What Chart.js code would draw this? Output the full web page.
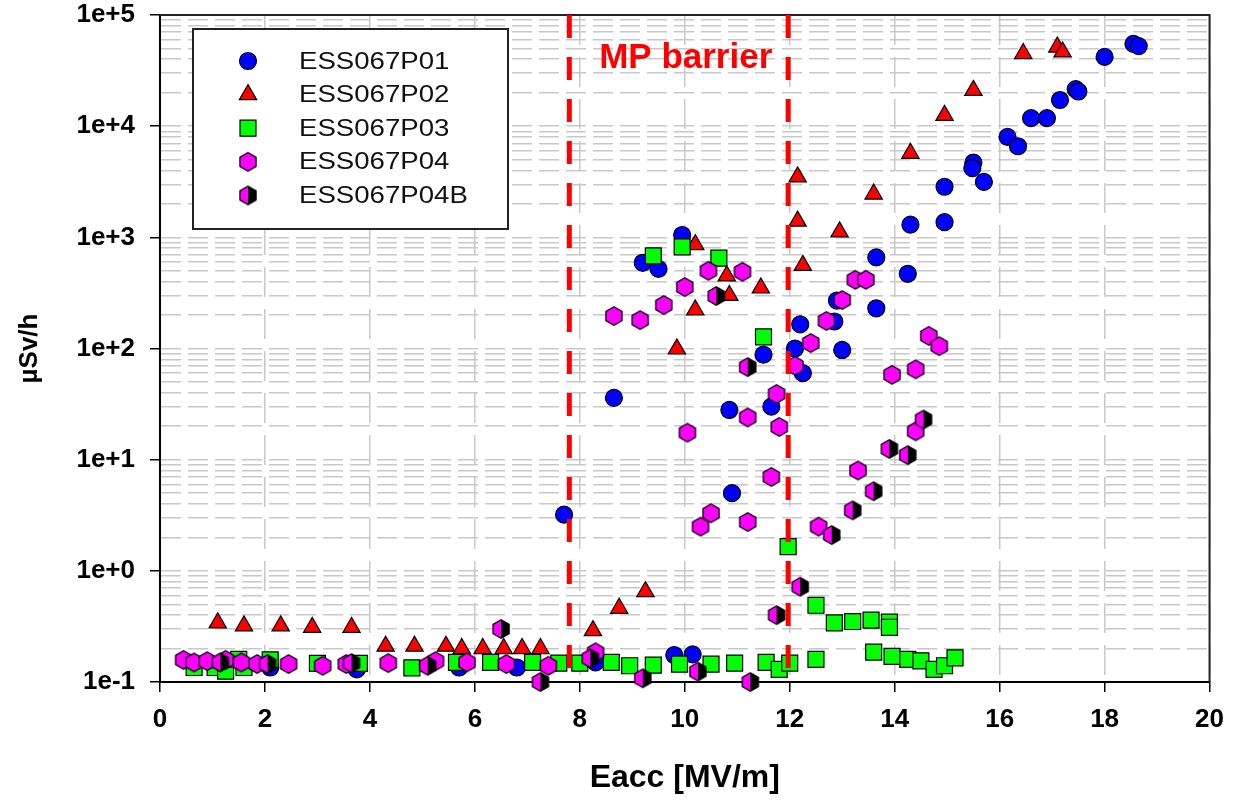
<html>
<head>
<title>Radiation vs Eacc</title>
<style>
  html, body { margin: 0; padding: 0; background: #fff; }
  #wrap { width: 1236px; height: 802px; }
</style>
</head>
<body>
<div id="wrap"><canvas id="radChart" width="1236" height="802"></canvas></div>
<script src="https://cdn.jsdelivr.net/npm/chart.js@4.4.0/dist/chart.umd.min.js"></script>
<script>
// series, [Eacc MV/m, uSv/h]
const p01 = [[2.1,0.135],[3.75,0.13],[5.7,0.135],[6.8,0.135],[7.7,3.2],[8.3,0.15],[8.65,36],[9.2,590],[9.5,520],
  [9.95,1050],[9.8,0.175],[10.15,0.177],[10.85,28],[10.9,5],[11.5,88],[11.65,30],[12.1,100],[12.2,165],[12.25,60],
  [12.85,175],[12.9,270],[13.0,97],[13.65,230],[13.65,660],[14.25,470],[14.3,1300],[14.95,1370],[14.95,2850],
  [15.5,4700],[15.48,4200],[15.7,3150],[16.15,8000],[16.35,6600],[16.6,11800],[16.9,11800],[17.15,17200],
  [17.45,21500],[17.5,20500],[18.0,42000],[18.55,55000],[18.65,52500]];
const p02 = [[1.1,0.34],[1.6,0.32],[2.3,0.32],[2.9,0.31],[3.65,0.31],[4.3,0.21],[4.85,0.21],[5.45,0.21],[5.75,0.2],
  [6.15,0.2],[6.55,0.2],[6.9,0.2],[7.25,0.2],[8.25,0.29],[8.75,0.46],[9.25,0.65],[9.85,99],[10.2,860],[10.2,222],
  [10.8,450],[10.85,300],[11.45,350],[12.15,1400],[12.15,3500],[12.25,560],[12.95,1120],[13.6,2450],[14.3,5700],
  [14.95,12500],[15.5,21000],[16.45,45000],[17.1,51500],[17.2,46500]];
const p03 = [[0.65,0.135],[1.05,0.135],[1.25,0.125],[1.5,0.16],[1.6,0.135],[2.1,0.158],[3.0,0.147],[3.8,0.147],
  [4.8,0.134],[5.65,0.15],[6.3,0.15],[7.1,0.15],[7.6,0.148],[8.0,0.148],[8.6,0.15],[8.95,0.14],[9.4,0.142],[9.4,680],
  [9.95,820],[9.9,0.145],[10.5,0.145],[10.65,650],[10.95,0.148],[11.5,127],[11.55,0.15],[11.8,0.13],[12.0,0.148],
  [11.97,1.65],[12.5,0.49],[12.5,0.16],[12.85,0.34],[13.2,0.35],[13.55,0.36],[13.6,0.186],[13.9,0.345],[13.9,0.31],
  [13.95,0.17],[14.25,0.16],[14.5,0.155],[14.75,0.13],[14.95,0.14],[15.15,0.165]];
const p04 = [[0.45,0.158],[0.65,0.15],[0.9,0.154],[1.25,0.158],[1.55,0.15],[1.85,0.145],[2.45,0.145],[3.1,0.14],
  [3.55,0.145],[4.35,0.148],[5.25,0.154],[5.85,0.15],[6.6,0.145],[7.4,0.14],[8.3,0.185],[8.65,196],[9.15,180],
  [9.6,246],[10.0,357],[10.05,17.5],[10.3,2.5],[10.5,3.3],[10.45,500],[11.1,490],[11.2,2.75],[11.2,24],[11.65,7],
  [11.75,39],[11.8,19.7],[12.1,70],[12.4,112],[12.55,2.5],[12.7,177],[13.0,273],[13.3,8],[13.25,415],[13.45,415],
  [13.95,58],[14.4,65],[14.4,18],[14.65,130],[14.85,105]];
const p04b = [[1.15,0.15],[2.05,0.145],[3.65,0.148],[5.1,0.14],[6.5,0.3],[7.25,0.1],[8.2,0.163],[9.2,0.108],
  [10.25,0.124],[10.6,297],[11.2,68],[11.25,0.1],[11.75,0.4],[12.2,0.72],[12.8,2.1],[13.2,3.5],[13.6,5.2],
  [13.9,12.5],[14.25,11],[14.55,23]];

const seriesNames = ['ESS067P01','ESS067P02','ESS067P03','ESS067P04','ESS067P04B'];
const barrierLo = 7.8, barrierHi = 11.97;
const decadeLabels = ['1e-1','1e+0','1e+1','1e+2','1e+3','1e+4','1e+5'];

const toXY = arr => arr.map(p => ({x: p[0], y: p[1]}));

function hexCanvas(fillL, fillR) {
  const c = document.createElement('canvas');
  c.width = 20; c.height = 22;
  const g = c.getContext('2d');
  const cx = 10, cy = 11, r = 9.3;
  const path = new Path2D();
  for (let i = 0; i < 6; i++) {
    const a = Math.PI / 3 * i - Math.PI / 2;
    const px = cx + r * Math.cos(a), py = cy + r * Math.sin(a);
    if (i === 0) path.moveTo(px, py); else path.lineTo(px, py);
  }
  path.closePath();
  g.fillStyle = fillL;
  g.fill(path);
  if (fillR) {
    g.save();
    g.beginPath(); g.rect(cx, 0, 20, 22); g.clip();
    g.fillStyle = fillR; g.fill(path);
    g.restore();
  }
  g.lineWidth = 1.3; g.strokeStyle = '#000';
  g.stroke(path);
  return c;
}
const hexMagenta = hexCanvas('#ff00ff');
const hexHalf = hexCanvas('#ff00ff', '#000000');

function isDecade(v) {
  const l = Math.log10(v);
  return Math.abs(l - Math.round(l)) < 1e-6;
}

function scatterSet(label, data, color, style, radius, order) {
  return {
    type: 'scatter', label: label, data: toXY(data), order: order, clip: false,
    pointStyle: style, pointRadius: radius, backgroundColor: color,
    borderColor: '#000', borderWidth: 1.2
  };
}
function barrierSet(x) {
  return {
    type: 'line', label: '', data: [{x: x, y: 1e5}, {x: x, y: 0.1}], order: 0,
    borderColor: '#ff0000', borderWidth: 5, borderDash: [23, 19], pointRadius: 0, fill: false
  };
}

const extras = {
  id: 'extras',
  beforeDatasetsDraw(chart) {
    const {ctx, chartArea: a} = chart;
    ctx.save();
    ctx.strokeStyle = '#222'; ctx.lineWidth = 2;
    ctx.beginPath();
    ctx.moveTo(a.left, a.top); ctx.lineTo(a.right, a.top); ctx.lineTo(a.right, a.bottom);
    ctx.stroke();
    ctx.restore();
  },
  afterDraw(chart) {
    const {ctx, chartArea: a, scales} = chart;
    ctx.save();
    // MP barrier label
    const mid = (scales.x.getPixelForValue(barrierLo) + scales.x.getPixelForValue(barrierHi)) / 2;
    ctx.fillStyle = '#ff0000';
    ctx.font = 'bold 35px "Liberation Sans", Arial, sans-serif';
    ctx.textAlign = 'center'; ctx.textBaseline = 'alphabetic';
    ctx.fillText('MP barrier', mid + 7, a.top + 53);
    // legend box
    const bx = a.left + 33, by = a.top + 14, bw = 315, bh = 200;
    ctx.fillStyle = '#fff';
    ctx.fillRect(bx, by, bw, bh);
    ctx.strokeStyle = '#222'; ctx.lineWidth = 2;
    ctx.strokeRect(bx, by, bw, bh);
    const sets = chart.data.datasets.filter(d => d.type === 'scatter');
    sets.forEach((d, i) => {
      const y = by + 32 + i * 33.6;
      const x = bx + 55;
      ctx.fillStyle = d.backgroundColor;
      ctx.strokeStyle = '#000';
      ctx.lineWidth = d.borderWidth;
      Chart.helpers.drawPoint(ctx, {pointStyle: d.pointStyle, radius: d.pointRadius, borderWidth: d.borderWidth, rotation: 0}, x, y);
      ctx.save();
      ctx.translate(bx + 106, y);
      ctx.scale(1.15, 1);
      ctx.fillStyle = '#111';
      ctx.font = '24px "Liberation Sans", Arial, sans-serif';
      ctx.textAlign = 'left'; ctx.textBaseline = 'middle';
      ctx.fillText(d.label, 0, 1);
      ctx.restore();
    });
    ctx.restore();
  }
};

const ctx = document.getElementById('radChart').getContext('2d');
new Chart(ctx, {
  type: 'scatter',
  data: {
    datasets: [
      scatterSet(seriesNames[0], p01, '#0000ff', 'circle', 8.5, 5),
      scatterSet(seriesNames[1], p02, '#ff0000', 'triangle', 10, 4),
      scatterSet(seriesNames[2], p03, '#00ff00', 'rect', 11.3, 3),
      scatterSet(seriesNames[3], p04, '#ff00ff', hexMagenta, 9, 2),
      scatterSet(seriesNames[4], p04b, '#ff00ff', hexHalf, 9, 1),
      barrierSet(barrierLo),
      barrierSet(barrierHi)
    ]
  },
  options: {
    responsive: false,
    animation: false,
    events: [],
    layout: { padding: { top: 0, right: 20, left: 0, bottom: 0 } },
    plugins: { legend: { display: false }, tooltip: { enabled: false } },
    scales: {
      x: {
        type: 'linear', min: 0, max: 20,
        afterFit: s => { s.height = 120; },
        ticks: { stepSize: 2, color: '#000', padding: 12,
          font: { family: '"Liberation Sans", Arial, sans-serif', size: 26, weight: 'bold' } },
        grid: { color: '#c8c8c8', lineWidth: 1.5, tickLength: 10, tickColor: '#000', tickWidth: 1.5 },
        border: { color: '#000', width: 2, dash: [30, 12] },
        title: { display: true, text: 'Eacc [MV/m]', color: '#000', padding: { top: 0, bottom: 5 },
          font: { family: '"Liberation Sans", Arial, sans-serif', size: 32, weight: 'bold' } }
      },
      y: {
        type: 'logarithmic', min: 0.1, max: 1e5,
        afterFit: s => { s.width = 160; s.paddingTop = 15; s.paddingBottom = 15; },
        afterBuildTicks: s => {
          const t = [];
          for (let e = -1; e < 5; e++) {
            for (let m = 1; m < 10; m++) t.push({ value: +(m * Math.pow(10, e)).toPrecision(3) });
          }
          t.push({ value: 1e5 });
          s.ticks = t;
        },
        ticks: {
          autoSkip: false, color: '#000', padding: 15,
          font: { family: '"Liberation Sans", Arial, sans-serif', size: 26, weight: 'bold' },
          callback: v => isDecade(v) ? decadeLabels[Math.round(Math.log10(v)) + 1] : ''
        },
        grid: {
          color: '#c8c8c8', lineWidth: 1.5, tickLength: 10, tickWidth: 1.5,
          tickColor: c => (c.tick && isDecade(c.tick.value)) ? '#000' : 'rgba(0,0,0,0)'
        },
        border: { color: '#000', width: 2, dash: [20, 7] },
        title: { display: true, text: 'µSv/h', color: '#000', padding: { top: 14, bottom: 0 },
          font: { family: '"Liberation Sans", Arial, sans-serif', size: 26, weight: 'bold' } }
      }
    }
  },
  plugins: [extras]
});
</script>
</body>
</html>
